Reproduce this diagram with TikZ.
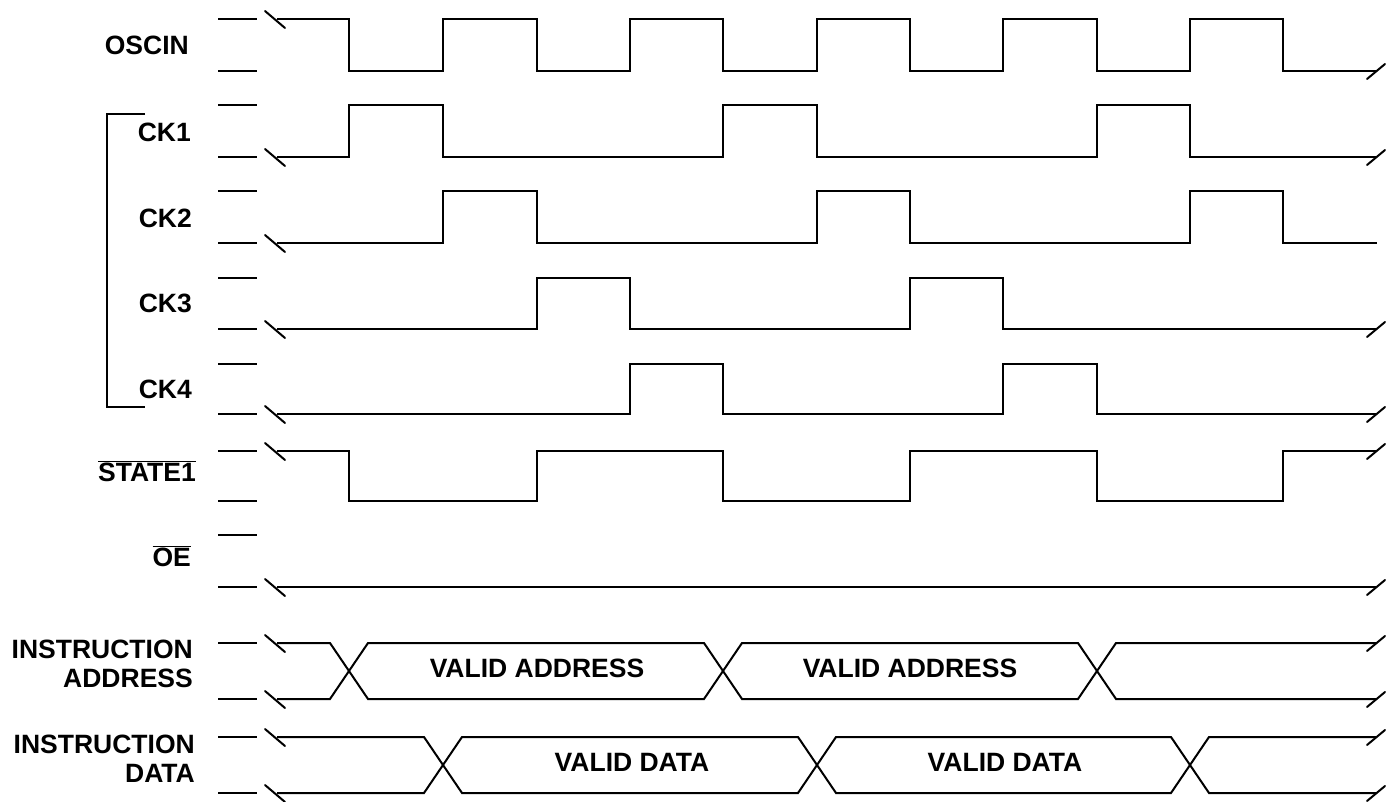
\documentclass[tikz,border=0pt]{standalone}
\usepackage{fontspec}
\setmainfont{Liberation Sans}
\usetikzlibrary{backgrounds}
\pgfdeclarelayer{edgelayer}
\pgfdeclarelayer{nodelayer}
\pgfsetlayers{edgelayer,nodelayer,main}
\tikzset{font=\fontsize{26.5}{29}\selectfont\bfseries}
\tikzstyle{none}=[inner sep=0pt]
\tikzstyle{signame}=[inner sep=0pt,anchor=east,align=right]
\tikzstyle{wave}=[line width=2pt]
\tikzstyle{brk}=[line width=2pt,line cap=round]

\begin{document}
\begin{tikzpicture}[x=1pt,y=-1pt]
	\useasboundingbox (0,0) rectangle (1392,802);
	\begin{pgfonlayer}{nodelayer}
		\node [style=signame] (0) at (189, 45) {OSCIN};
		\node [style=signame] (1) at (191, 132) {CK1};
		\node [style=signame] (2) at (192, 218) {CK2};
		\node [style=signame] (3) at (192, 303) {CK3};
		\node [style=signame] (4) at (192, 389) {CK4};
		\node [style=signame] (5) at (196, 471) {$\overline{\mbox{STATE1}}$};
		\node [style=signame] (6) at (191, 556) {$\overline{\mbox{OE}}$};
		\node [style=signame] (7) at (193, 664) {INSTRUCTION\\ADDRESS};
		\node [style=signame] (8) at (195, 759) {INSTRUCTION\\DATA};
		\node [style=none] (9) at (537, 668) {VALID ADDRESS};
		\node [style=none] (10) at (910, 668) {VALID ADDRESS};
		\node [style=none] (11) at (632, 762) {VALID DATA};
		\node [style=none] (12) at (1005, 762) {VALID DATA};
	\end{pgfonlayer}
	\begin{pgfonlayer}{edgelayer}
		% bracket round the clocks
		\draw[style=wave] (145,114) -- (107,114) -- (107,407) -- (145,407);
		% level ticks
		\draw[style=wave] (218,19) -- (257,19) (218,71) -- (257,71)
			(218,105) -- (257,105) (218,157) -- (257,157)
			(218,191) -- (257,191) (218,243) -- (257,243)
			(218,278) -- (257,278) (218,329) -- (257,329)
			(218,364) -- (257,364) (218,414) -- (257,414)
			(218,451) -- (257,451) (218,501) -- (257,501)
			(218,535) -- (257,535) (218,587) -- (257,587)
			(218,643) -- (257,643) (218,699) -- (257,699)
			(218,737) -- (257,737) (218,793) -- (257,793);
		% waves
		\draw[style=wave] (277,19) -| (349,71) -| (443,19) -| (537,71) -| (630,19) -| (723,71) -| (817,19) -| (910,71) -| (1003,19) -| (1097,71) -| (1190,19) -| (1283,71) -- (1376,71);
		\draw[style=wave] (277,157) -| (349,105) -| (443,157) -| (723,105) -| (817,157) -| (1097,105) -| (1190,157) -- (1376,157);
		\draw[style=wave] (277,243) -| (443,191) -| (537,243) -| (817,191) -| (910,243) -| (1190,191) -| (1283,243) -- (1377,243);
		\draw[style=wave] (277,329) -| (537,278) -| (630,329) -| (910,278) -| (1003,329) -- (1376,329);
		\draw[style=wave] (277,414) -| (630,364) -| (723,414) -| (1003,364) -| (1097,414) -- (1376,414);
		\draw[style=wave] (277,451) -| (349,501) -| (537,451) -| (723,501) -| (910,451) -| (1097,501) -| (1283,451) -- (1376,451);
		\draw[style=wave] (277,587) -- (1376,587);
		% buses
		\draw[style=wave] (277,643) -- (330,643) -- (368,699) -- (704,699) -- (742,643) -- (1078,643) -- (1116,699) -- (1376,699);
		\draw[style=wave] (277,699) -- (330,699) -- (368,643) -- (704,643) -- (742,699) -- (1078,699) -- (1116,643) -- (1376,643);
		\draw[style=wave] (277,737) -- (424,737) -- (462,793) -- (798,793) -- (836,737) -- (1171,737) -- (1209,793) -- (1376,793);
		\draw[style=wave] (277,793) -- (424,793) -- (462,737) -- (798,737) -- (836,793) -- (1171,793) -- (1209,737) -- (1376,737);
		% break marks
		\draw[style=brk] (265,11) -- ++(20,17) (265,149) -- ++(20,17) (265,235) -- ++(20,17)
			(265,321) -- ++(20,17) (265,406) -- ++(20,17) (265,443) -- ++(20,17)
			(265,579) -- ++(20,17) (265,635) -- ++(20,17) (265,691) -- ++(20,17)
			(265,729) -- ++(20,17) (265,785) -- ++(20,17);
		\draw[style=brk] (1367,79) -- ++(18,-15) (1367,165) -- ++(18,-15) (1367,337) -- ++(18,-15)
			(1367,422) -- ++(18,-15) (1367,459) -- ++(18,-15) (1367,595) -- ++(18,-15)
			(1367,651) -- ++(18,-15) (1367,707) -- ++(18,-15)
			(1367,745) -- ++(18,-15) (1367,801) -- ++(18,-15);
	\end{pgfonlayer}
\end{tikzpicture}
\end{document}
